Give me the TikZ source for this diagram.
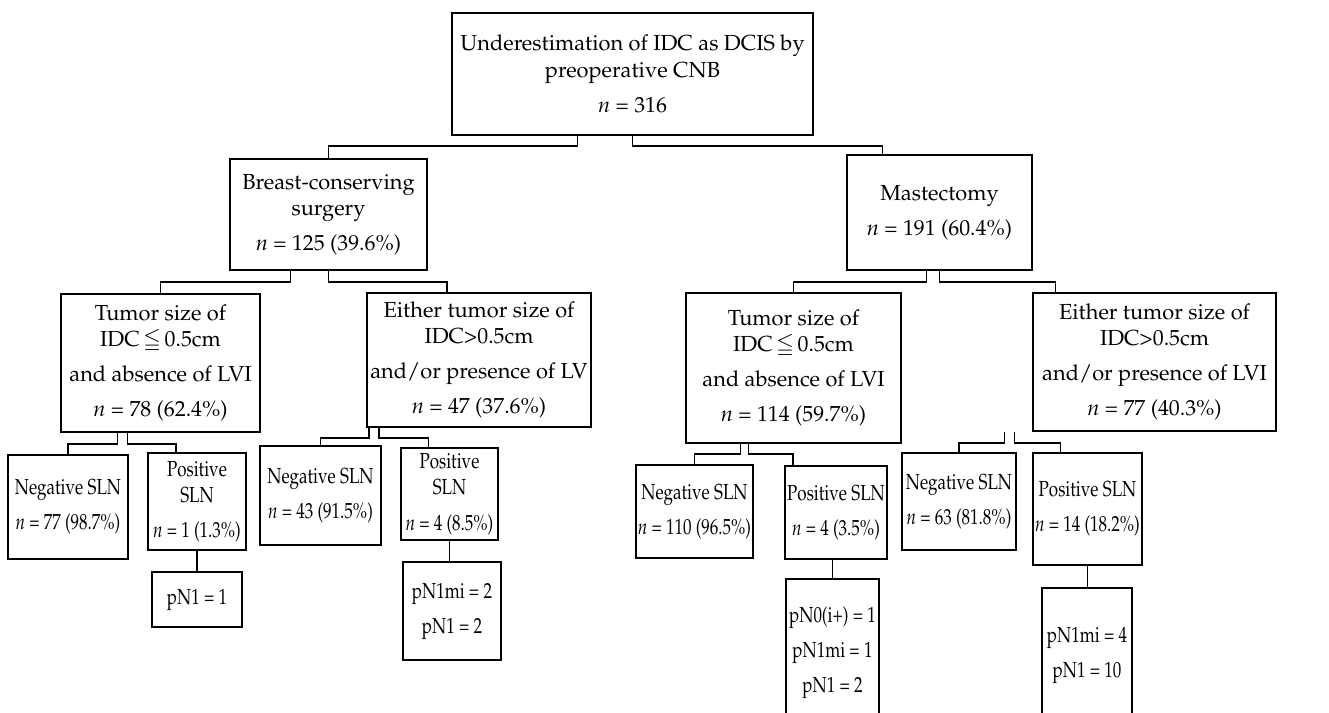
\documentclass[tikz,border=0pt]{standalone}
\usepackage[T1]{fontenc}
\usepackage{mathpazo}
\usepackage{amssymb}
\usetikzlibrary{calc}

\tikzset{
  box/.style 2 args={draw, rectangle, align=center, inner sep=0pt,
    minimum width=#1*0.02cm, minimum height=#2*0.02cm},
}
\newcommand{\nn}{\textit{n}}
\newcommand{\leqc}{\,$\leqq$\,}
% 叶节点文字横向压窄
\newcommand{\slim}[1]{\scalebox{0.78}[1]{\begin{tabular}{@{}c@{}}#1\end{tabular}}}

\begin{document}
\begin{tikzpicture}[x=0.02cm, y=-0.02cm, line width=0.9pt,
    font=\fontsize{12.4}{15}\selectfont]
    \useasboundingbox (0,0) rectangle (1329,713);

    % 顶层
    \node[box={361}{122}] (top) at (632.5,74)
        {Underestimation of IDC as DCIS by\\ preoperative CNB\\[5pt] \nn{} = 316};

    % 手术方式
    \node[box={197}{111}] (bcs) at (328.5,214.5)
        {Breast-conserving\\ surgery\\[5pt] \nn{} = 125 (39.6\%)};
    \node[box={185}{115}] (mast) at (939.5,212.5)
        {Mastectomy\\[5pt] \nn{} = 191 (60.4\%)};

    % 肿瘤大小 / LVI
    \node[box={199}{138}] (bs) at (160.5,363)
        {Tumor size of\\ IDC\leqc0.5cm\\[5pt] and absence of LVI\\[5pt] \nn{} = 78 (62.4\%)};
    \node[box={224}{134}] (bl) at (479,360)
        {Either tumor size of\\ IDC>0.5cm\\[5pt] and/or presence of LV\\[5pt] \nn{} = 47 (37.6\%)};
    \node[box={215}{150}] (ms) at (793.5,368)
        {Tumor size of\\ IDC\leqc0.5cm\\[5pt] and absence of LVI\\[5pt] \nn{} = 114 (59.7\%)};
    \node[box={243}{138}] (ml) at (1154.5,362)
        {Either tumor size of\\ IDC>0.5cm\\[5pt] and/or presence of LVI\\[5pt] \nn{} = 77 (40.3\%)};

    % SLN 结果
    \node[box={120}{104}] (neg1) at (68,507) {\slim{Negative SLN\\[5pt] \nn{} = 77 (98.7\%)}};
    \node[box={98}{97}] (pos1) at (197,501.5) {\slim{Positive\\ SLN\\[5pt] \nn{} = 1 (1.3\%)}};
    \node[box={121}{99}] (neg2) at (320.5,495.5) {\slim{Negative SLN\\[5pt] \nn{} = 43 (91.5\%)}};
    \node[box={97}{92}] (pos2) at (449.5,494) {\slim{Positive\\ SLN\\[5pt] \nn{} = 4 (8.5\%)}};
    \node[box={117}{93}] (neg3) at (694.5,511.5) {\slim{Negative SLN\\[5pt] \nn{} = 110 (96.5\%)}};
    \node[box={102}{93}] (pos3) at (836,512.5) {\slim{Positive SLN\\[5pt] \nn{} = 4 (3.5\%)}};
    \node[box={114}{97}] (neg4) at (959,501.5) {\slim{Negative SLN\\[5pt] \nn{} = 63 (81.8\%)}};
    \node[box={109}{112}] (pos4) at (1087.5,509) {\slim{Positive SLN\\[5pt] \nn{} = 14 (18.2\%)}};

    % pN 分期
    \node[box={90}{55}] (pn1) at (197,599.5) {\slim{pN1 = 1}};
    \node[box={98}{98}] (pn2) at (452,611) {\slim{pN1mi = 2\\[5pt] pN1 = 2}};
    \node[box={93}{146}] (pn3) at (832.5,652) {\slim{pN0(i+) = 1\\[5pt] pN1mi = 1\\[5pt] pN1 = 2}};
    \node[box={90}{134}] (pn4) at (1087,655) {\slim{pN1mi = 4\\[5pt] pN1 = 10}};

    % 连线
    \draw ($(top.south)+(-55,0)$) -- ++(0,10) -| (bcs.north);
    \draw (top.south) -- ++(0,10) -| ($(mast.north)+(-57,0)$);
    \draw ($(bcs.south)+(-38,0)$) -- ++(0,11) -| (bs.north);
    \draw (bcs.south) -- ++(0,11) -| ($(bl.north)+(-32,0)$);
    \draw ($(mast.south)+(-13,0)$) -- ++(0,11) -| (ms.north);
    \draw (mast.south) -- ++(0,11) -| ($(ml.north)+(-99,0)$);
    \draw ($(bs.south)+(-43,0)$) -- ++(0,11) -| (neg1.north);
    \draw ($(bs.south)+(-33,0)$) -- ++(0,11) -| ($(pos1.north)+(-21,0)$);
    \draw ($(bl.south)+(-110,0)$) -- ++(0,10) -| (neg2.north);
    \draw ($(bl.south)+(-100,0)$) -- ++(0,10) -| ($(pos2.north)+(-21,0)$);
    \draw ($(ms.south)+(-53,0)$) -- ++(0,10) -| (neg3.north);
    \draw ($(ms.south)+(-45,0)$) -- ++(0,10) -| ($(pos3.north)+(-43,0)$);
    \draw ($(ml.south)+(-150,0)$) -- ++(0,11) -| (neg4.north);
    \draw ($(ml.south)+(-140,0)$) -- ++(0,11) -| ($(pos4.north)+(-27,0)$);
    \draw (pos1.south) -- (pn1.north);
    \draw (pos2.south) -- (pos2.south |- pn2.north);
    \draw (pn3.north |- pos3.south) -- (pn3.north);
    \draw (pos4.south) -- (pos4.south |- pn4.north);
\end{tikzpicture}
\end{document}
